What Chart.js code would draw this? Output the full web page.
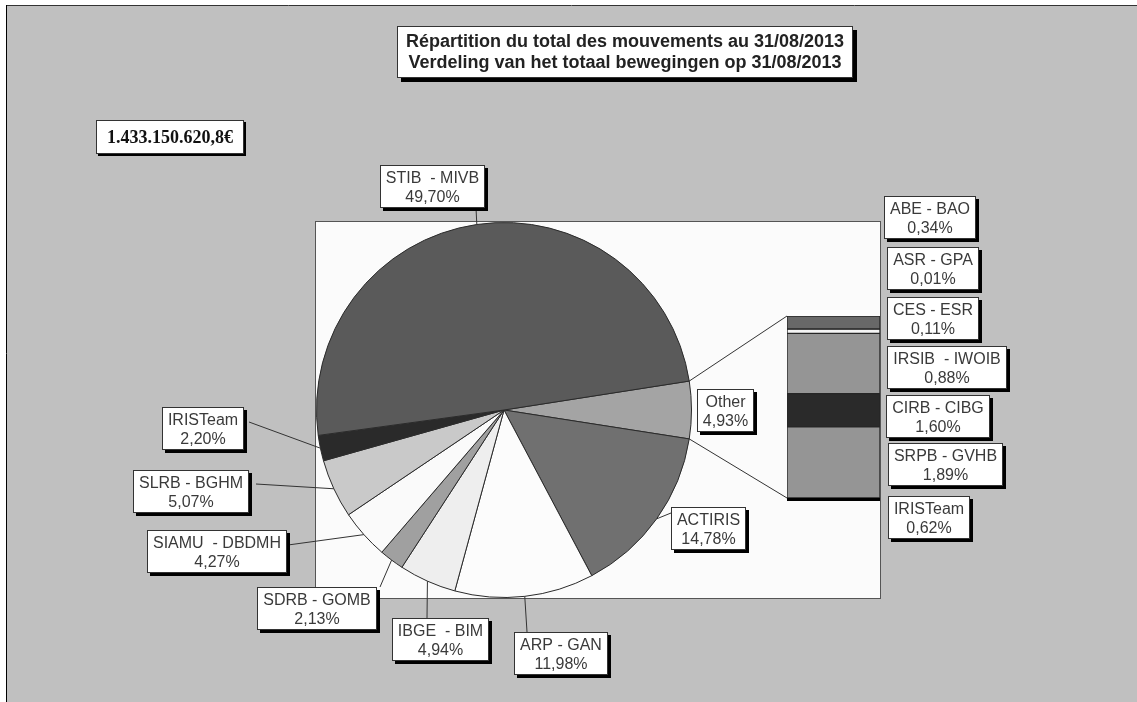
<!DOCTYPE html>
<html>
<head>
<meta charset="utf-8">
<script src="https://cdn.jsdelivr.net/npm/chart.js@4.4.0/dist/chart.umd.min.js"></script>
<style>
  html, body { margin: 0; padding: 0; background: #fff; }
  #wrap { position: relative; width: 1137px; height: 702px; }
  #wrap canvas { position: absolute; left: 0; top: 0; }
</style>
</head>
<body>
<div id="wrap">
  <canvas id="pieChart" width="1137" height="702"></canvas>
  <canvas id="barChart" width="1137" height="702"></canvas>
</div>
<script>
const titleLines = ['Répartition du total des mouvements au 31/08/2013', 'Verdeling van het totaal bewegingen op 31/08/2013'];
const totalText = '1.433.150.620,8€';

// main pie, starting with the "Other" slice that gets broken out into the bar
const pieNames = ['Other', 'ACTIRIS', 'ARP - GAN', 'IBGE  - BIM', 'SDRB - GOMB', 'SIAMU  - DBDMH', 'SLRB - BGHM', 'IRISTeam', 'STIB  - MIVB'];
const pieValues = [4.93, 14.78, 11.98, 4.94, 2.13, 4.27, 5.07, 2.20, 49.70];
const pieColors = ['#a4a4a4', '#707070', '#fcfcfc', '#eeeeee', '#a0a0a0', '#fafafa', '#c9c9c9', '#2a2a2a', '#5a5a5a'];

// breakdown of "Other"
const otherNames = ['ABE - BAO', 'ASR - GPA', 'CES - ESR', 'IRSIB  - IWOIB', 'CIRB - CIBG', 'SRPB - GVHB', 'IRISTeam'];
const otherValues = [0.34, 0.01, 0.11, 0.88, 1.60, 1.89, 0.62];
const barOrder = [0, 1, 2, 4, 3, 5];
const barColors = ['#686868', '#2a2a2a', '#f4f4f4', '#959595', '#2a2a2a', '#959595'];

// label boxes: [left, top, leader x, leader y]
const pieBoxes = [
  [697, 389, null, null],
  [671, 507, 671, 513],
  [514, 632, 527, 632],
  [392, 618, 427, 618],
  [257, 587, 380, 587],
  [147, 530, 288, 545],
  [133, 470, 256, 484],
  [162, 407, 249, 422],
  [380, 165, 476, 208]
];
const sideBoxes = [[884, 196], [887, 247], [887, 297], [887, 346], [886, 395], [888, 443], [888, 496]];

const pct = v => v.toFixed(2).replace('.', ',') + '%';
const labelFont = '16px "Liberation Sans", Arial, sans-serif';

function box(ctx, x, y, w, h, shadow) {
  ctx.fillStyle = '#000';
  ctx.fillRect(x + shadow, y + shadow, w, h);
  ctx.fillStyle = '#fff';
  ctx.fillRect(x, y, w, h);
  ctx.strokeStyle = '#333';
  ctx.lineWidth = 1;
  ctx.strokeRect(x + 0.5, y + 0.5, w - 1, h - 1);
}

function label(ctx, x, y, name, value) {
  ctx.font = labelFont;
  const l2 = pct(value);
  const w = Math.round(Math.max(ctx.measureText(name).width, ctx.measureText(l2).width)) + 12;
  box(ctx, x, y, w, 43, 3);
  ctx.fillStyle = '#3a3a3a';
  ctx.textAlign = 'center';
  ctx.textBaseline = 'alphabetic';
  ctx.fillText(name, x + w / 2, y + 18);
  ctx.fillText(l2, x + w / 2, y + 37);
}

function line(ctx, x1, y1, x2, y2) {
  ctx.strokeStyle = '#333';
  ctx.lineWidth = 1;
  ctx.beginPath();
  ctx.moveTo(x1, y1);
  ctx.lineTo(x2, y2);
  ctx.stroke();
}

const barTotal = barOrder.reduce((s, i) => s + otherValues[i], 0);

const sideLabels = {
  id: 'sideLabels',
  afterDraw(chart) {
    const ctx = chart.ctx;
    const a = chart.chartArea;
    // dark base under the stacked bar
    ctx.fillStyle = '#000';
    ctx.fillRect(a.left, a.bottom, a.right - a.left, 3);
    otherNames.forEach((n, i) => label(ctx, sideBoxes[i][0], sideBoxes[i][1], n, otherValues[i]));
  }
};

const barChart = new Chart(document.getElementById('barChart'), {
  type: 'bar',
  data: {
    labels: ['Other'],
    datasets: barOrder.map((idx, k) => ({
      label: otherNames[idx],
      data: [otherValues[idx]],
      backgroundColor: barColors[k],
      borderColor: '#262626',
      borderWidth: 1,
      borderSkipped: false,
      barPercentage: 1,
      categoryPercentage: 1,
      stack: 'other'
    }))
  },
  options: {
    responsive: false,
    animation: false,
    layout: { padding: { left: 787, right: 257, top: 316, bottom: 204 } },
    scales: {
      x: { display: false, stacked: true },
      y: { display: false, stacked: true, reverse: true, min: 0, max: barTotal }
    },
    plugins: { legend: { display: false }, tooltip: { enabled: false } }
  },
  plugins: [sideLabels]
});

const pieFrame = {
  id: 'pieFrame',
  beforeDraw(chart) {
    const ctx = chart.ctx;
    const a = chart.chartArea;
    ctx.save();
    ctx.fillStyle = '#fff';
    ctx.fillRect(0, 0, chart.width, chart.height);
    ctx.fillStyle = '#c0c0c0';
    ctx.fillRect(7, 6, chart.width - 7, chart.height - 6);
    line(ctx, 6, 5.5, chart.width, 5.5);
    ctx.strokeStyle = '#000';
    ctx.beginPath();
    ctx.moveTo(6.5, 5);
    ctx.lineTo(6.5, chart.height);
    ctx.stroke();

    // plot area behind pie and bar
    const right = barChart.chartArea.right;
    ctx.fillStyle = '#fbfbfb';
    ctx.fillRect(a.left, a.top, right - a.left, a.bottom - a.top);
    ctx.strokeStyle = '#555';
    ctx.strokeRect(a.left - 0.5, a.top - 0.5, right - a.left + 1, a.bottom - a.top + 1);

    // title
    box(ctx, 397, 26, 456, 52, 4);
    ctx.fillStyle = '#222';
    ctx.font = 'bold 18px "Liberation Sans", Arial, sans-serif';
    ctx.textAlign = 'center';
    ctx.fillText(titleLines[0], 625, 47);
    ctx.fillText(titleLines[1], 625, 68);

    // grand total
    box(ctx, 96, 120, 148, 34, 2);
    ctx.fillStyle = '#111';
    ctx.font = 'bold 18px "Liberation Serif", "Times New Roman", serif';
    ctx.fillText(totalText, 170, 143);
    ctx.restore();
  },
  afterDraw(chart) {
    const ctx = chart.ctx;
    ctx.save();
    const arcs = chart.getDatasetMeta(0).data;
    arcs.forEach((arc, i) => {
      const p = arc.getProps(['x', 'y', 'startAngle', 'endAngle', 'outerRadius']);
      const b = pieBoxes[i];
      if (b[2] !== null) {
        const mid = (p.startAngle + p.endAngle) / 2;
        line(ctx, p.x + Math.cos(mid) * p.outerRadius, p.y + Math.sin(mid) * p.outerRadius, b[2], b[3]);
      }
    });
    arcs.forEach((arc, i) => label(ctx, pieBoxes[i][0], pieBoxes[i][1], pieNames[i], pieValues[i]));

    // connectors from the "Other" slice to the breakdown bar
    const o = arcs[0].getProps(['x', 'y', 'startAngle', 'endAngle', 'outerRadius']);
    const metas = barChart.getSortedVisibleDatasetMetas();
    const first = metas[0].data[0], last = metas[metas.length - 1].data[0];
    const bx = first.x - first.width / 2;
    const top = Math.min(first.y, first.base), bottom = Math.max(last.y, last.base);
    line(ctx, o.x + Math.cos(o.startAngle) * o.outerRadius, o.y + Math.sin(o.startAngle) * o.outerRadius, bx, top);
    line(ctx, o.x + Math.cos(o.endAngle) * o.outerRadius, o.y + Math.sin(o.endAngle) * o.outerRadius, bx, bottom);
    ctx.restore();
  }
};

new Chart(document.getElementById('pieChart'), {
  type: 'pie',
  data: {
    labels: pieNames,
    datasets: [{
      data: pieValues,
      backgroundColor: pieColors,
      borderColor: '#2b2b2b',
      borderWidth: 1
    }]
  },
  options: {
    responsive: false,
    animation: false,
    rotation: 90 - pieValues[0] * 1.8,
    layout: { padding: { left: 316, top: 222, right: 445, bottom: 104 } },
    plugins: { legend: { display: false }, tooltip: { enabled: false } }
  },
  plugins: [pieFrame]
});
</script>
</body>
</html>
